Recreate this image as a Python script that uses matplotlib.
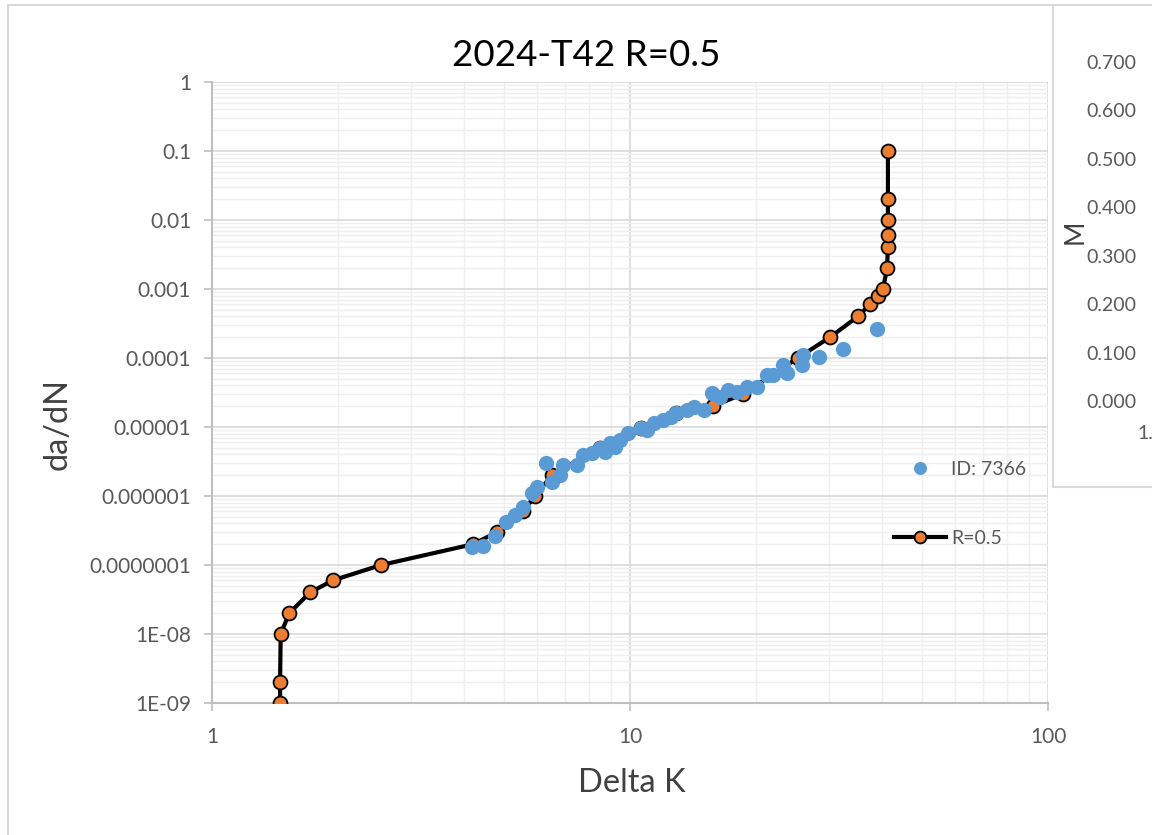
import matplotlib
matplotlib.use("Agg")
import matplotlib.pyplot as plt
from matplotlib.patches import Rectangle
from matplotlib.ticker import LogLocator, NullFormatter

plt.rcParams['font.family'] = ['Lato', 'DejaVu Sans']

# series R=0.5 (curve with markers)
r_dk = [1.455, 1.455, 1.46, 1.53, 1.716, 1.948, 2.54, 4.21, 4.81, 5.55, 5.93, 6.5,
        8.48, 10.6, 12.9, 15.8, 18.6, 25.2, 30.1, 35.1, 37.5, 39.2, 40.3,
        41.2, 41.4, 41.4, 41.4, 41.4, 41.4]
r_dadn = [1e-9, 2e-9, 1e-8, 2e-8, 4e-8, 6e-8, 1e-7, 2e-7, 3e-7, 6e-7, 1e-6, 2e-6,
          5e-6, 9.7e-6, 1.6e-5, 2e-5, 3e-5, 1e-4, 2e-4, 4e-4, 6e-4, 8e-4, 1e-3,
          2e-3, 4e-3, 6e-3, 1e-2, 2e-2, 0.1]

# measured points ID: 7366
id_dk = [4.19, 4.45, 4.75, 5.05, 5.31, 5.55, 5.83, 5.99, 6.30, 6.51, 6.80, 6.92,
         7.47, 7.72, 8.11, 8.48, 8.71, 8.96, 9.21, 9.46, 9.89, 10.6, 11.0, 11.4,
         12.0, 12.5, 12.9, 13.7, 14.2, 15.0, 15.7, 16.4, 17.2, 18.0, 19.1, 20.1,
         21.3, 22.0, 23.2, 23.8, 25.8, 25.9, 28.3, 32.3, 39.0]
id_dadn = [1.82e-7, 1.88e-7, 2.63e-7, 4.2e-7, 5.3e-7, 6.9e-7, 1.1e-6, 1.35e-6, 3.0e-6,
           1.6e-6, 2.0e-6, 2.8e-6, 2.8e-6, 3.9e-6, 4.2e-6, 5.0e-6, 4.3e-6, 5.9e-6,
           5.1e-6, 6.5e-6, 8.2e-6, 9.7e-6, 9.1e-6, 1.14e-5, 1.26e-5, 1.4e-5, 1.6e-5,
           1.76e-5, 1.95e-5, 1.76e-5, 3.1e-5, 2.7e-5, 3.4e-5, 3.2e-5, 3.8e-5, 3.8e-5,
           5.7e-5, 5.7e-5, 7.9e-5, 6.1e-5, 7.9e-5, 1.1e-4, 1.03e-4, 1.35e-4, 2.6e-4]

y_ticks = [1e-9, 1e-8, 1e-7, 1e-6, 1e-5, 1e-4, 1e-3, 1e-2, 1e-1, 1]
y_labels = ['1E-09', '1E-08', '0.0000001', '0.000001', '0.00001', '0.0001',
            '0.001', '0.01', '0.1', '1']
x_ticks = [1, 10, 100]
x_labels = ['1', '10', '100']

m_ticks = [0.0, 0.1, 0.2, 0.3, 0.4, 0.5, 0.6, 0.7]

W, H = 1152, 835
fig = plt.figure(figsize=(W / 100, H / 100), dpi=100)

# chart area border
fig.patches.append(Rectangle((8 / W, -0.1), 1.2, 1 - 5 / H + 0.1, transform=fig.transFigure,
                             fill=False, edgecolor='#d9d9d9', linewidth=1.5, zorder=0))

ax = fig.add_axes([212 / W, 1 - 703 / H, (1048 - 212) / W, (703 - 82) / H])
ax.set_xscale('log')
ax.set_yscale('log')
ax.set_xlim(1, 100)
ax.set_ylim(1e-9, 1)

ax.xaxis.set_minor_locator(LogLocator(base=10, subs=range(2, 10), numticks=20))
ax.yaxis.set_minor_locator(LogLocator(base=10, subs=range(2, 10), numticks=30))
ax.xaxis.set_minor_formatter(NullFormatter())
ax.yaxis.set_minor_formatter(NullFormatter())
ax.set_xticks(x_ticks)
ax.set_xticklabels(x_labels)
ax.set_yticks(y_ticks)
ax.set_yticklabels(y_labels)

ax.grid(which='major', color='#d9d9d9', linewidth=1.2, zorder=0)
ax.grid(which='minor', color='#efefef', linewidth=1.0, zorder=0)
ax.set_axisbelow(True)
for s in ['top', 'right']:
    ax.spines[s].set_visible(False)
for s in ['left', 'bottom']:
    ax.spines[s].set_color('#bfbfbf')
    ax.spines[s].set_linewidth(1.5)
ax.tick_params(which='major', length=6, width=1.2, color='#bfbfbf', labelsize=15,
               labelcolor='#595959')
ax.tick_params(axis='y', which='major', pad=9)
ax.tick_params(axis='x', which='major', pad=11)
ax.tick_params(which='minor', length=0)

ax.plot(r_dk, r_dadn, '-o', color='black', linewidth=3, markersize=10,
        markerfacecolor='#ed7d31', markeredgecolor='black', markeredgewidth=1.3,
        label='R=0.5', zorder=3)
ax.plot(id_dk, id_dadn, 'o', color='#5b9bd5', markersize=11, markeredgewidth=0,
        label='ID: 7366', zorder=4)

handles, labels = ax.get_legend_handles_labels()
ax.legend(handles[::-1], labels[::-1], loc='center left', bbox_to_anchor=(886 / W, 1 - 504 / H),
          bbox_transform=fig.transFigure, frameon=False, fontsize=14, labelspacing=2.7,
          handlelength=2.7, handletextpad=0.25, borderaxespad=0, labelcolor='#595959',
          markerscale=0.85)

fig.text(586 / W, 1 - 66 / H, '2024-T42 R=0.5', fontsize=26.5, color='black',
         ha='center', va='baseline')
fig.text(632 / W, 1 - 792 / H, 'Delta K', fontsize=23.5, color='#404040',
         ha='center', va='baseline')
fig.text(58 / W, 1 - 424 / H, 'da/dN', fontsize=23.5, color='#404040',
         ha='center', va='center', rotation=90)

# neighbouring chart, mostly cut off at the right edge
fig.patches.append(Rectangle((1053 / W, 1 - 487 / H), 0.2, (487 - 5) / H,
                             transform=fig.transFigure, facecolor='white',
                             edgecolor='#d9d9d9', linewidth=1.5, zorder=2))
ax2 = fig.add_axes([1149 / W, 1 - 401 / H, 0.3, (401 - 62) / H])
ax2.set_zorder(5)
ax2.patch.set_visible(False)
ax2.set_ylim(0, 0.7)
ax2.set_yticks(m_ticks)
ax2.set_yticklabels(['%.3f' % v for v in m_ticks])
ax2.set_xticks([])
for s in ax2.spines.values():
    s.set_visible(False)
ax2.tick_params(axis='y', length=0, labelsize=14, labelcolor='#595959', pad=9)
fig.text(1075 / W, 1 - 232 / H, 'M', fontsize=19, color='#404040', rotation=90,
         ha='center', va='center', zorder=6)
fig.text(1137 / W, 1 - 433 / H, '1.', fontsize=14, color='#595959', va='center',
         ha='left', zorder=6)

fig.savefig('out.png', dpi=100)
